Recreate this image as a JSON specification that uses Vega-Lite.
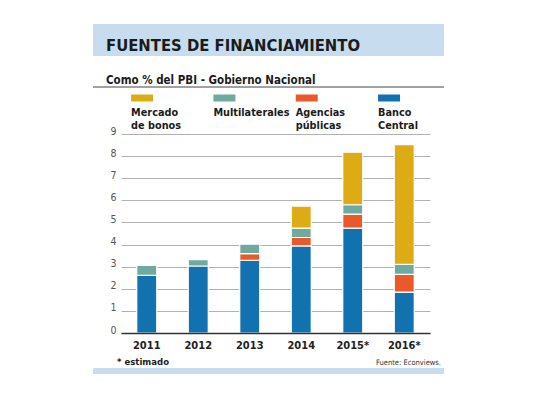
{
  "$schema": "https://vega.github.io/schema/vega-lite/v6.json",
  "background": "white",
  "padding": {"left": 92, "top": 24, "right": 0, "bottom": 0},
  "autosize": {"type": "pad"},
  "spacing": 0,
  "config": {
    "font": "Liberation Sans Narrow, DejaVu Sans Condensed, sans-serif",
    "view": {"stroke": null},
    "concat": {"spacing": 0}
  },
  "vconcat": [
    {
      "width": 309,
      "height": 32,
      "encoding": {
        "x": {"datum": 0, "type": "quantitative", "scale": {"domain": [0, 1]}, "axis": null},
        "y": {"datum": 0, "type": "quantitative", "scale": {"domain": [0, 1]}, "axis": null}
      },
      "layer": [
        {
          "data": {"values": [{}]},
          "mark": {"type": "rect", "color": "#C7DCEF", "xOffset": -28, "x2Offset": 14},
          "encoding": {"x2": {"datum": 1}, "y2": {"datum": 1}}
        },
        {
          "data": {"values": [{"texto": "FUENTES DE FINANCIAMIENTO"}]},
          "mark": {"type": "text", "align": "left", "baseline": "alphabetic", "dx": -15, "dy": -5.5, "fontSize": 16.5, "fontWeight": "bold", "color": "#1b1b1b"},
          "encoding": {"text": {"field": "texto"}}
        }
      ]
    },
    {
      "width": 309,
      "height": 38,
      "encoding": {
        "x": {"datum": 0, "type": "quantitative", "scale": {"domain": [0, 1]}, "axis": null},
        "y": {"datum": 1, "type": "quantitative", "scale": {"domain": [0, 1]}, "axis": null}
      },
      "layer": [
        {
          "data": {"values": [{"texto": "Como % del PBI - Gobierno Nacional"}]},
          "mark": {"type": "text", "align": "left", "baseline": "alphabetic", "dx": -15, "dy": 28, "fontSize": 11.5, "fontWeight": "bold", "color": "#1b1b1b"},
          "encoding": {"text": {"field": "texto"}}
        },
        {
          "data": {"values": [{}]},
          "mark": {"type": "rule", "color": "#444", "strokeWidth": 1, "xOffset": -28, "x2Offset": 14, "yOffset": 31},
          "encoding": {"x2": {"datum": 1}}
        }
      ]
    },
    {
      "width": 309,
      "height": 199,
      "resolve": {"scale": {"x": "independent", "y": "independent"}, "axis": {"x": "independent", "y": "independent"}},
      "layer": [
        {
          "data": {"values": [
            {"anio": "2011", "serie": "Banco Central", "valor": 2.61},
            {"anio": "2011", "serie": "Multilaterales", "valor": 0.45},
            {"anio": "2012", "serie": "Banco Central", "valor": 3.03},
            {"anio": "2012", "serie": "Multilaterales", "valor": 0.29},
            {"anio": "2013", "serie": "Banco Central", "valor": 3.29},
            {"anio": "2013", "serie": "Agencias públicas", "valor": 0.30},
            {"anio": "2013", "serie": "Multilaterales", "valor": 0.43},
            {"anio": "2014", "serie": "Banco Central", "valor": 3.94},
            {"anio": "2014", "serie": "Agencias públicas", "valor": 0.38},
            {"anio": "2014", "serie": "Multilaterales", "valor": 0.42},
            {"anio": "2014", "serie": "Mercado de bonos", "valor": 1.0},
            {"anio": "2015*", "serie": "Banco Central", "valor": 4.74},
            {"anio": "2015*", "serie": "Agencias públicas", "valor": 0.64},
            {"anio": "2015*", "serie": "Multilaterales", "valor": 0.42},
            {"anio": "2015*", "serie": "Mercado de bonos", "valor": 2.38},
            {"anio": "2016*", "serie": "Banco Central", "valor": 1.85},
            {"anio": "2016*", "serie": "Agencias públicas", "valor": 0.80},
            {"anio": "2016*", "serie": "Multilaterales", "valor": 0.46},
            {"anio": "2016*", "serie": "Mercado de bonos", "valor": 5.41}
          ]},
          "transform": [
            {"calculate": "indexof(['Banco Central', 'Agencias públicas', 'Multilaterales', 'Mercado de bonos'], datum.serie)", "as": "orden"}
          ],
          "mark": {"type": "bar", "width": 20, "stroke": "white", "strokeWidth": 1.2},
          "encoding": {
            "x": {"field": "anio", "type": "nominal", "title": null,
              "scale": {"paddingInner": 0, "paddingOuter": 0},
              "axis": {"labelAngle": 0, "labelFontSize": 11, "labelFontWeight": "bold", "labelColor": "#222", "labelPadding": 6,
                "domainColor": "#333", "domainWidth": 1.5, "ticks": false, "zindex": 1}},
            "y": {"field": "valor", "type": "quantitative", "stack": "zero", "title": null,
              "scale": {"domain": [0, 9], "nice": false},
              "axis": {"values": [0, 1, 2, 3, 4, 5, 6, 7, 8, 9], "domain": false, "ticks": false, "grid": true,
                "gridColor": "#a8a8a8", "gridWidth": 0.9, "labelBaseline": "alphabetic", "labelPadding": 5,
                "labelFontSize": 10.5, "labelColor": "#555"}},
            "order": {"field": "orden", "type": "quantitative"},
            "color": {"field": "serie", "type": "nominal", "legend": null,
              "scale": {"domain": ["Mercado de bonos", "Multilaterales", "Agencias públicas", "Banco Central"],
                "range": ["#DDAB14", "#6EAAA0", "#E95A2B", "#1271AF"]}}
          }
        },
        {
          "data": {"values": [
            {"serie": "Mercado de bonos", "etiqueta": "Mercado\nde bonos"},
            {"serie": "Multilaterales", "etiqueta": "Multilaterales"},
            {"serie": "Agencias públicas", "etiqueta": "Agencias\npúblicas"},
            {"serie": "Banco Central", "etiqueta": "Banco\nCentral"}
          ]},
          "encoding": {
            "x": {"field": "serie", "type": "nominal", "sort": null, "scale": {"type": "point", "padding": 0.377, "align": 0.34}, "axis": null},
            "y": {"datum": 1, "type": "quantitative", "scale": {"domain": [0, 1]}, "axis": null}
          },
          "layer": [
            {
              "mark": {"type": "tick", "orient": "horizontal", "size": 22, "thickness": 7, "yOffset": -36, "opacity": 1},
              "encoding": {"color": {"field": "serie", "type": "nominal", "legend": null}}
            },
            {
              "mark": {"type": "text", "align": "left", "baseline": "alphabetic", "dx": -11, "dy": -18, "lineBreak": "\n", "lineHeight": 13, "fontSize": 10.8, "fontWeight": "bold", "color": "#1b1b1b"},
              "encoding": {"text": {"field": "etiqueta"}}
            }
          ]
        }
      ]
    },
    {
      "width": 309,
      "height": 18,
      "encoding": {
        "y": {"datum": 1, "type": "quantitative", "scale": {"domain": [0, 1]}, "axis": null}
      },
      "layer": [
        {
          "data": {"values": [{"texto": "* estimado"}]},
          "mark": {"type": "text", "align": "left", "baseline": "alphabetic", "dx": -4, "dy": 14.5, "fontSize": 9.5, "fontWeight": "bold", "color": "#1b1b1b"},
          "encoding": {
            "x": {"datum": 0, "type": "quantitative", "scale": {"domain": [0, 1]}, "axis": null},
            "text": {"field": "texto"}
          }
        },
        {
          "data": {"values": [{"texto": "Fuente: Econviews."}]},
          "mark": {"type": "text", "align": "right", "baseline": "alphabetic", "dx": 11, "dy": 15, "fontSize": 7.5, "color": "#333"},
          "encoding": {
            "x": {"datum": 1, "type": "quantitative", "scale": {"domain": [0, 1]}, "axis": null},
            "text": {"field": "texto"}
          }
        }
      ]
    },
    {
      "width": 309,
      "height": 6,
      "data": {"values": [{}]},
      "mark": {"type": "rect", "color": "#C7DCEF", "xOffset": -28, "x2Offset": 14},
      "encoding": {
        "x": {"datum": 0, "type": "quantitative", "scale": {"domain": [0, 1]}, "axis": null},
        "x2": {"datum": 1},
        "y": {"datum": 0, "type": "quantitative", "scale": {"domain": [0, 1]}, "axis": null},
        "y2": {"datum": 1}
      }
    }
  ]
}
